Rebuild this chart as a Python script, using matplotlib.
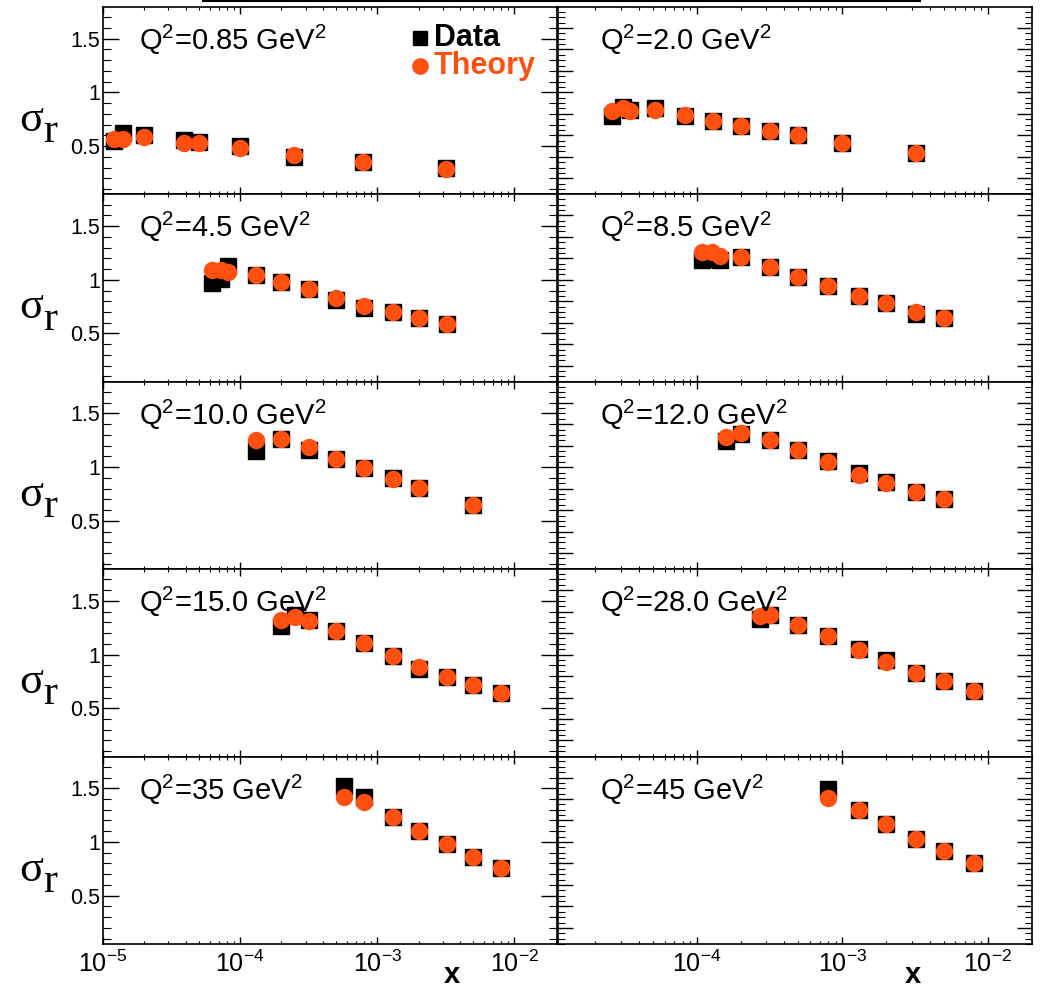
import numpy as np
import matplotlib
matplotlib.use("Agg")
import matplotlib.pyplot as plt
from matplotlib.ticker import LogLocator, MultipleLocator, NullFormatter, FuncFormatter
from matplotlib.lines import Line2D

plt.rcParams['font.family'] = ['Liberation Sans', 'DejaVu Sans']
plt.rcParams['mathtext.default'] = 'regular'

orange = '#ff5010'

# ---- data ----
q2_labels = ['0.85', '2.0', '4.5', '8.5', '10.0', '12.0', '15.0', '28.0', '35', '45']

x_085 = [1.2e-5, 1.4e-5, 2.0e-5, 3.9e-5, 5.0e-5, 1.0e-4, 2.45e-4, 7.9e-4, 3.16e-3]
data_085 = [0.55, 0.62, 0.60, 0.555, 0.54, 0.50, 0.40, 0.35, 0.30]
err_085 = [0.02, 0.05, 0.02, 0.02, 0.02, 0.02, 0.02, 0.02, 0.02]
theo_085 = [0.57, 0.57, 0.58, 0.53, 0.525, 0.48, 0.42, 0.35, 0.29]

x_20 = [2.6e-5, 3.1e-5, 3.5e-5, 5.2e-5, 8.3e-5, 1.3e-4, 2.0e-4, 3.2e-4, 5.0e-4, 1.0e-3, 3.2e-3]
data_20 = [0.78, 0.86, 0.84, 0.85, 0.78, 0.73, 0.69, 0.64, 0.60, 0.53, 0.44]
err_20 = [0.03, 0.03, 0.02, 0.02, 0.02, 0.02, 0.02, 0.02, 0.02, 0.02, 0.02]
theo_20 = [0.83, 0.85, 0.83, 0.84, 0.79, 0.73, 0.69, 0.64, 0.60, 0.53, 0.44]

x_45 = [6.2e-5, 7.3e-5, 8.2e-5, 1.3e-4, 2.0e-4, 3.2e-4, 5.0e-4, 8.0e-4, 1.3e-3, 2.0e-3, 3.2e-3]
data_45 = [0.97, 1.01, 1.13, 1.04, 0.98, 0.91, 0.815, 0.74, 0.70, 0.645, 0.59]
err_45 = [0.04, 0.04, 0.03, 0.02, 0.02, 0.02, 0.02, 0.02, 0.02, 0.02, 0.02]
theo_45 = [1.09, 1.09, 1.07, 1.04, 0.98, 0.91, 0.83, 0.76, 0.70, 0.645, 0.59]

x_85 = [1.08e-4, 1.27e-4, 1.45e-4, 2.0e-4, 3.2e-4, 5.0e-4, 8.0e-4, 1.3e-3, 2.0e-3, 3.2e-3, 5.0e-3]
data_85 = [1.185, 1.19, 1.185, 1.21, 1.12, 1.03, 0.94, 0.85, 0.78, 0.685, 0.645]
err_85 = [0.05, 0.05, 0.05, 0.03, 0.02, 0.02, 0.02, 0.02, 0.02, 0.02, 0.02]
theo_85 = [1.26, 1.26, 1.22, 1.21, 1.12, 1.03, 0.94, 0.85, 0.78, 0.70, 0.645]

x_10 = [1.3e-4, 2.0e-4, 3.2e-4, 5.0e-4, 8.0e-4, 1.3e-3, 2.0e-3, 5.0e-3]
data_10 = [1.15, 1.26, 1.16, 1.08, 0.99, 0.90, 0.81, 0.65]
err_10 = [0.06, 0.03, 0.03, 0.02, 0.02, 0.02, 0.02, 0.02]
theo_10 = [1.25, 1.26, 1.19, 1.08, 0.99, 0.89, 0.81, 0.65]

x_12 = [1.6e-4, 2.0e-4, 3.2e-4, 5.0e-4, 8.0e-4, 1.3e-3, 2.0e-3, 3.2e-3, 5.0e-3]
data_12 = [1.24, 1.31, 1.25, 1.16, 1.06, 0.95, 0.86, 0.77, 0.70]
err_12 = [0.03, 0.03, 0.02, 0.02, 0.02, 0.02, 0.02, 0.02, 0.02]
theo_12 = [1.28, 1.32, 1.25, 1.16, 1.05, 0.93, 0.85, 0.77, 0.70]

x_15 = [2.0e-4, 2.5e-4, 3.2e-4, 5.0e-4, 8.0e-4, 1.3e-3, 2.0e-3, 3.2e-3, 5.0e-3, 8.0e-3]
data_15 = [1.27, 1.37, 1.32, 1.22, 1.11, 0.99, 0.87, 0.79, 0.72, 0.64]
err_15 = [0.03, 0.03, 0.02, 0.02, 0.02, 0.02, 0.02, 0.02, 0.02, 0.02]
theo_15 = [1.32, 1.35, 1.31, 1.22, 1.11, 0.99, 0.88, 0.79, 0.72, 0.64]

x_28 = [2.7e-4, 3.2e-4, 5.0e-4, 8.0e-4, 1.3e-3, 2.0e-3, 3.2e-3, 5.0e-3, 8.0e-3]
data_28 = [1.33, 1.37, 1.28, 1.17, 1.05, 0.95, 0.83, 0.75, 0.66]
err_28 = [0.03, 0.03, 0.02, 0.02, 0.02, 0.02, 0.02, 0.02, 0.02]
theo_28 = [1.36, 1.37, 1.28, 1.17, 1.04, 0.93, 0.83, 0.75, 0.66]

x_35 = [5.7e-4, 8.0e-4, 1.3e-3, 2.0e-3, 3.2e-3, 5.0e-3, 8.0e-3]
data_35 = [1.52, 1.42, 1.23, 1.10, 0.98, 0.86, 0.76]
err_35 = [0.03, 0.03, 0.02, 0.02, 0.02, 0.02, 0.02]
theo_35 = [1.42, 1.37, 1.23, 1.10, 0.98, 0.86, 0.76]

x_45g = [8.0e-4, 1.3e-3, 2.0e-3, 3.2e-3, 5.0e-3, 8.0e-3]
data_45g = [1.49, 1.30, 1.17, 1.03, 0.915, 0.80]
err_45g = [0.03, 0.02, 0.02, 0.02, 0.02, 0.02]
theo_45g = [1.41, 1.30, 1.17, 1.03, 0.915, 0.80]

panels = [
    (x_085, data_085, err_085, theo_085),
    (x_20, data_20, err_20, theo_20),
    (x_45, data_45, err_45, theo_45),
    (x_85, data_85, err_85, theo_85),
    (x_10, data_10, err_10, theo_10),
    (x_12, data_12, err_12, theo_12),
    (x_15, data_15, err_15, theo_15),
    (x_28, data_28, err_28, theo_28),
    (x_35, data_35, err_35, theo_35),
    (x_45g, data_45g, err_45g, theo_45g),
]

# ---- layout (pixels) ----
W, H = 1040, 988
fig = plt.figure(figsize=(W / 100, H / 100), dpi=100)

cols = [(103, 557, (1e-5, 10 ** -1.69)), (558, 1032, (10 ** -4.954, 10 ** -1.696))]
top, bottom = 7, 944
row_h = (bottom - top) / 5.0


def fx(px):
    return px / W


def fy(py):
    return 1 - py / H


def exp_label(v, pos):
    return r'$\mathregular{10^{%d}}$' % int(round(np.log10(v)))


axes = []
for i, (xs, ds, es, ts) in enumerate(panels):
    row, col = divmod(i, 2)
    x0, x1, xlim = cols[col]
    ax = fig.add_axes([fx(x0), fy(top + row_h * (row + 1)), (x1 - x0) / W, row_h / H])
    axes.append(ax)

    ax.errorbar(xs, ds, yerr=es, fmt='s', color='black', ms=11, capsize=2,
                elinewidth=1.2, zorder=2)
    ax.plot(xs, ts, 'o', color=orange, ms=11.5, mec=orange, zorder=3)

    ax.set_xscale('log')
    ax.set_xlim(*xlim)
    ax.set_ylim(0.05, 1.795)

    ax.xaxis.set_major_locator(LogLocator(base=10, numticks=10))
    ax.xaxis.set_minor_locator(LogLocator(base=10, subs=np.arange(2, 10), numticks=10))
    ax.xaxis.set_minor_formatter(NullFormatter())
    if row == 4:
        ax.xaxis.set_major_formatter(FuncFormatter(exp_label))
    else:
        ax.xaxis.set_major_formatter(NullFormatter())

    ax.tick_params(which='both', direction='in', top=True, right=True)
    ax.tick_params(axis='x', which='major', length=5, width=1, labelsize=18, pad=5)
    ax.tick_params(axis='x', which='minor', length=2.5, width=0.8)

    if col == 0:
        ax.yaxis.set_major_locator(MultipleLocator(0.5))
        ax.yaxis.set_minor_locator(MultipleLocator(0.1))
        ax.yaxis.set_major_formatter(FuncFormatter(lambda v, p: '%g' % v))
        ax.tick_params(axis='y', which='major', length=11.5, width=1, labelsize=15.5, pad=2)
        ax.tick_params(axis='y', which='minor', length=5.8, width=0.8)
    else:
        ax.yaxis.set_major_locator(MultipleLocator(0.2))
        ax.yaxis.set_minor_locator(MultipleLocator(0.05))
        ax.yaxis.set_major_formatter(NullFormatter())
        ax.tick_params(axis='y', which='major', length=10.8, width=1)
        ax.tick_params(axis='y', which='minor', length=5, width=0.8)

    for s in ax.spines.values():
        s.set_linewidth(1.2)

    off = 36 if col == 0 else 42
    ax.text(off / (x1 - x0), 1 - 43 / row_h,
            r'Q$^{2}$=%s GeV$^{2}$' % q2_labels[i],
            transform=ax.transAxes, fontsize=21, va='baseline', ha='left')

    if col == 0:
        ry = top + row_h * row
        fig.text(fx(31), fy(ry + 113), 'σ', family='Liberation Serif', fontsize=32,
                 ha='center', va='center')
        fig.text(fx(50), fy(ry + 125), 'r', family='Liberation Serif', fontsize=30,
                 ha='center', va='center')

# legend drawn in figure pixels (marker + bold label)
leg_marks = [('s', 'black', 'Data', 38, 10), ('o', orange, 'Theory', 66, 11)]
for m, c, lab, ly, ms in leg_marks:
    fig.add_artist(Line2D([fx(420)], [fy(ly)], marker=m, color=c, ls='none', ms=ms))
    fig.text(fx(434), fy(ly), lab, color=c, fontsize=22, fontweight='bold',
             ha='left', va='center')

# axis titles
fig.text(fx(452), fy(975), 'x', fontsize=21, fontweight='bold', ha='center', va='center')
fig.text(fx(913), fy(975), 'x', fontsize=21, fontweight='bold', ha='center', va='center')

# clipped frame line at the very top
fig.add_artist(Line2D([fx(203), fx(920)], [fy(1), fy(1)], color='black', lw=1.5))

fig.savefig('out.png', dpi=100)
